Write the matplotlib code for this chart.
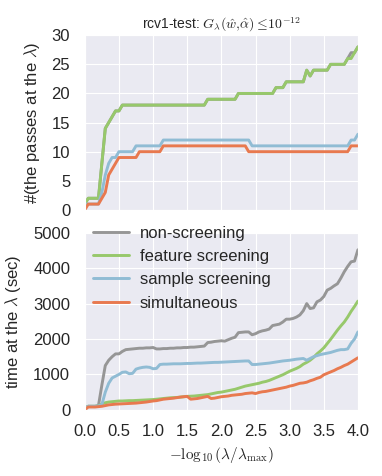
import numpy as np
import matplotlib
matplotlib.use("Agg")
import matplotlib.pyplot as plt
import seaborn as sns

sns.set_style("darkgrid")
plt.rcParams['font.family'] = ['Liberation Sans', 'DejaVu Sans']
plt.rcParams['mathtext.fontset'] = 'cm'

# lambda grid: -log10(lambda/lambda_max)
x = np.linspace(0, 4, 81)

labels = ['non-screening', 'feature screening', 'sample screening', 'simultaneous']
colors = ['#969696', '#97c86b', '#90bcd4', '#e8794f']

# number of passes at each lambda
passes_non = [1, 2, 2, 2, 2, 8, 14, 15, 16, 17,
              17, 18, 18, 18, 18, 18, 18, 18, 18, 18,
              18, 18, 18, 18, 18, 18, 18, 18, 18, 18,
              18, 18, 18, 18, 18, 18, 19, 19, 19, 19,
              19, 19, 19, 19, 19, 20, 20, 20, 20, 20,
              20, 20, 20, 20, 20, 20, 21, 21, 21, 22,
              22, 22, 22, 22, 22, 24, 23, 24, 24, 24,
              24, 24, 25, 25, 25, 25, 25, 26, 27, 27,
              28]
passes_feat = [1, 2, 2, 2, 2, 8, 14, 15, 16, 17,
               17, 18, 18, 18, 18, 18, 18, 18, 18, 18,
               18, 18, 18, 18, 18, 18, 18, 18, 18, 18,
               18, 18, 18, 18, 18, 18, 19, 19, 19, 19,
               19, 19, 19, 19, 19, 20, 20, 20, 20, 20,
               20, 20, 20, 20, 20, 20, 21, 21, 21, 22,
               22, 22, 22, 22, 22, 24, 23, 24, 24, 24,
               24, 24, 25, 25, 25, 25, 25, 26, 26, 27,
               28]
passes_samp = [1, 1, 1, 1, 1, 3, 6, 8, 9, 9,
               10, 10, 10, 10, 10, 11, 11, 11, 11, 11,
               11, 11, 11, 12, 12, 12, 12, 12, 12, 12,
               12, 12, 12, 12, 12, 12, 12, 12, 12, 12,
               12, 12, 12, 12, 12, 12, 12, 12, 12, 11,
               11, 11, 11, 11, 11, 11, 11, 11, 11, 11,
               11, 11, 11, 11, 11, 11, 11, 11, 11, 11,
               11, 11, 11, 11, 11, 11, 11, 11, 12, 12,
               13]
passes_simu = [0, 1, 1, 1, 1, 2, 3, 6, 7, 8,
               9, 9, 9, 9, 9, 9, 10, 10, 10, 10,
               10, 10, 10, 11, 11, 11, 11, 11, 11, 11,
               11, 11, 11, 11, 11, 11, 11, 11, 11, 11,
               11, 11, 11, 11, 11, 11, 11, 11, 10, 10,
               10, 10, 10, 10, 10, 10, 10, 10, 10, 10,
               10, 10, 10, 10, 10, 10, 10, 10, 10, 10,
               10, 10, 10, 10, 10, 10, 10, 10, 11, 11,
               11]

# computation time at each lambda (sec)
time_non = [50, 100, 100, 100, 120, 700, 1250, 1400, 1500, 1580,
            1580, 1650, 1700, 1710, 1720, 1730, 1740, 1740, 1750, 1750,
            1760, 1720, 1720, 1730, 1730, 1740, 1740, 1750, 1750, 1760,
            1760, 1770, 1770, 1780, 1790, 1800, 1900, 1910, 1930, 1940,
            1950, 1940, 1980, 2020, 2050, 2180, 2190, 2200, 2200, 2120,
            2150, 2200, 2230, 2250, 2280, 2380, 2400, 2420, 2480, 2560,
            2560, 2580, 2620, 2680, 2800, 3000, 2860, 2880, 3050, 3100,
            3200, 3380, 3430, 3500, 3560, 3720, 3900, 4050, 4180, 4200,
            4520]
time_feat = [50, 100, 100, 100, 110, 170, 200, 220, 230, 240,
             250, 250, 255, 260, 260, 265, 270, 275, 280, 285,
             290, 300, 310, 320, 330, 340, 345, 350, 360, 370,
             380, 385, 390, 400, 410, 420, 430, 450, 470, 490,
             500, 520, 540, 560, 580, 610, 640, 670, 690, 710,
             730, 750, 780, 800, 830, 870, 910, 950, 990, 1040,
             1090, 1130, 1170, 1220, 1290, 1340, 1400, 1480, 1580, 1660,
             1750, 1870, 1990, 2120, 2250, 2370, 2480, 2620, 2780, 2920,
             3070]
time_samp = [50, 100, 100, 100, 110, 150, 500, 750, 900, 950,
             1000, 1060, 1070, 1020, 1030, 1150, 1180, 1200, 1210, 1200,
             1160, 1170, 1280, 1290, 1290, 1295, 1300, 1300, 1300, 1305,
             1310, 1310, 1315, 1320, 1320, 1325, 1330, 1335, 1340, 1340,
             1345, 1350, 1355, 1360, 1365, 1370, 1375, 1380, 1380, 1280,
             1280, 1290, 1300, 1310, 1320, 1335, 1350, 1365, 1380, 1390,
             1400, 1415, 1430, 1440, 1450, 1400, 1450, 1500, 1530, 1560,
             1580, 1600, 1620, 1650, 1680, 1700, 1700, 1720, 1880, 2000,
             2200]
time_simu = [0, 80, 80, 80, 90, 100, 120, 140, 150, 160,
             165, 170, 175, 180, 185, 190, 200, 210, 220, 235,
             250, 260, 280, 300, 310, 320, 330, 345, 360, 370,
             380, 300, 310, 320, 340, 360, 380, 320, 330, 350,
             370, 380, 390, 410, 420, 430, 440, 460, 470, 480,
             460, 490, 510, 520, 540, 560, 580, 600, 620, 640,
             670, 690, 720, 750, 760, 780, 820, 850, 890, 920,
             990, 1030, 1070, 1110, 1160, 1200, 1250, 1290, 1350, 1410,
             1470]

passes = [passes_non, passes_feat, passes_samp, passes_simu]
times = [time_non, time_feat, time_samp, time_simu]

fig = plt.figure(figsize=(3.82, 4.76), dpi=100)
ax1 = fig.add_axes([0.222, 0.559, 0.715, 0.367])
ax2 = fig.add_axes([0.222, 0.139, 0.715, 0.372])

for p, c, lab in zip(passes, colors, labels):
    ax1.plot(x, p, color=c, lw=2.1, label=lab)
for t, c, lab in zip(times, colors, labels):
    ax2.plot(x, t, color=c, lw=2.1, label=lab)

ax1.set_xlim(0, 4)
ax1.set_ylim(0, 30)
ax1.set_yticks([0, 5, 10, 15, 20, 25, 30])
ax1.set_xticks(np.arange(0, 4.01, 0.5))
ax1.set_xticklabels([])
ax1.set_ylabel(r'#(the passes at the $\lambda$)', fontsize=12, labelpad=7)
ax1.set_title(r'rcv1-test: $G_\lambda(\hat{w},\!\hat{\alpha}) \leq\! 10^{-12}$',
              fontsize=10, pad=5)

ax2.set_xlim(0, 4)
ax2.set_ylim(0, 5000)
ax2.set_xticks(np.arange(0, 4.01, 0.5))
ax2.set_yticks([0, 1000, 2000, 3000, 4000, 5000])
ax2.set_ylabel(r'time at the $\lambda$ (sec)', fontsize=12, labelpad=7)
ax2.set_xlabel(r'$-\log_{10}(\lambda/\lambda_{\max})$', fontsize=11, labelpad=4)

for ax in (ax1, ax2):
    ax.tick_params(labelsize=12, pad=7)

ax2.legend(loc='upper left', bbox_to_anchor=(-0.025, 1.125), fontsize=12,
           frameon=False, handlelength=2.15, handletextpad=0.65,
           labelspacing=0.5)

fig.savefig('out.png', dpi=100)
